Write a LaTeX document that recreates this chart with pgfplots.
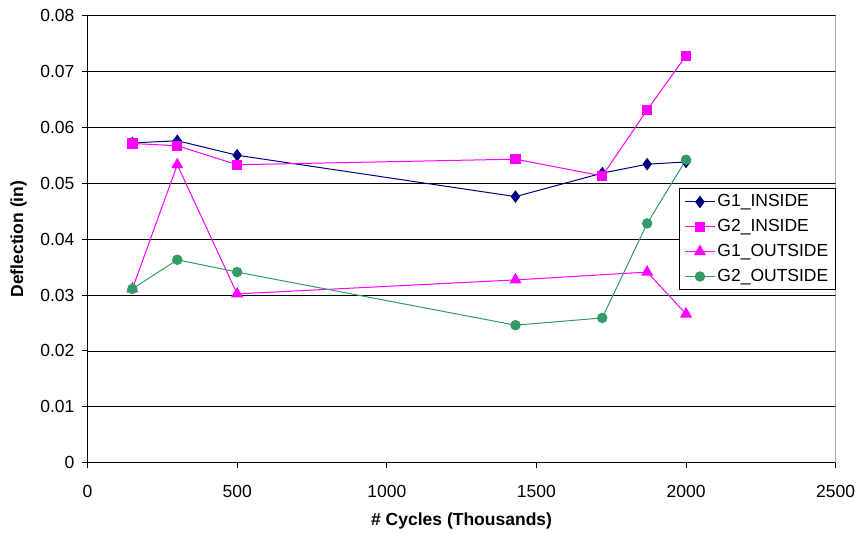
\documentclass[border=0pt]{standalone}
\usepackage{pgfplots}
\pgfplotsset{compat=1.18}
\usepackage{fontspec}
\setmainfont{Liberation Sans}
\definecolor{navyc}{RGB}{0,0,128}
\definecolor{magc}{RGB}{255,0,255}
\definecolor{greenc}{RGB}{51,153,102}
\begin{document}
\fontsize{17.5}{21}\selectfont
\begin{tikzpicture}
\path[use as bounding box] (-87.5pt,-71.3pt) rectangle (769.5pt,462.7pt);
\begin{axis}[
  at={(0,0)}, anchor=south west,
  scale only axis, width=748.2pt, height=447.2pt,
  xmin=0, xmax=2500, ymin=0, ymax=0.08,
  scaled y ticks=false, scaled x ticks=false,
  axis x line*=bottom, axis y line*=left,
  axis line style={black, line width=0.8pt},
  xtick={0,500,1000,1500,2000,2500},
  xticklabels={0,500,1000,1500,2000,2500},
  ytick={0,0.01,0.02,0.03,0.04,0.05,0.06,0.07,0.08},
  yticklabels={0,0.01,0.02,0.03,0.04,0.05,0.06,0.07,0.08},
  tick align=outside, major tick length=5pt,
  tick style={black, line width=0.8pt},
  ymajorgrids, grid style={black, line width=0.7pt},
  ticklabel style={font=\fontsize{17.5}{21}\selectfont},
  xticklabel style={yshift=-12pt},
  yticklabel style={xshift=-2pt},
  xlabel={\bfseries\# Cycles (Thousands)},
  ylabel={\bfseries Deflection (in)},
  label style={font=\fontsize{18}{21}\selectfont},
  every axis x label/.style={at={(axis description cs:0.5,0)}, yshift=-58pt, anchor=center},
  every axis y label/.style={at={(axis description cs:0,0.5)}, xshift=-69pt, rotate=90, anchor=center},
  legend style={at={(1,0.614)}, anchor=north east, draw=black, line width=0.8pt,
    font=\fontsize{17.5}{21}\selectfont, row sep=6pt, inner xsep=5pt, inner ysep=4pt},
  legend cell align=left,
  legend image code/.code={\draw[mark repeat=2, mark phase=2] plot coordinates {(0pt,0pt) (15pt,0pt) (30pt,0pt)};},
]
\addplot[navyc, line width=1pt, mark=diamond*, mark size=5.5pt, mark options={solid}] coordinates {
 (150,0.0572) (300,0.0576) (500,0.0550) (1430,0.0476) (1720,0.0518) (1870,0.0534) (2000,0.0538)};
\addlegendentry{G1\_INSIDE}
\addplot[magc, line width=1pt, mark=square*, mark size=4.7pt] coordinates {
 (150,0.0571) (300,0.0567) (500,0.0533) (1430,0.0543) (1720,0.0513) (1870,0.0631) (2000,0.0728)};
\addlegendentry{G2\_INSIDE}
\addplot[magc, line width=1pt, mark=triangle*, mark size=6pt] coordinates {
 (150,0.0311) (300,0.0533) (500,0.0302) (1430,0.0327) (1870,0.0341) (2000,0.0266)};
\addlegendentry{G1\_OUTSIDE}
\addplot[greenc, line width=1pt, mark=*, mark size=4.7pt] coordinates {
 (150,0.0311) (300,0.0363) (500,0.0341) (1430,0.0246) (1720,0.0259) (1870,0.0428) (2000,0.0542)};
\addlegendentry{G2\_OUTSIDE}
\draw[gray, line width=1.2pt] (rel axis cs:1,0) -- (rel axis cs:1,1);
\end{axis}
\end{tikzpicture}
\end{document}
